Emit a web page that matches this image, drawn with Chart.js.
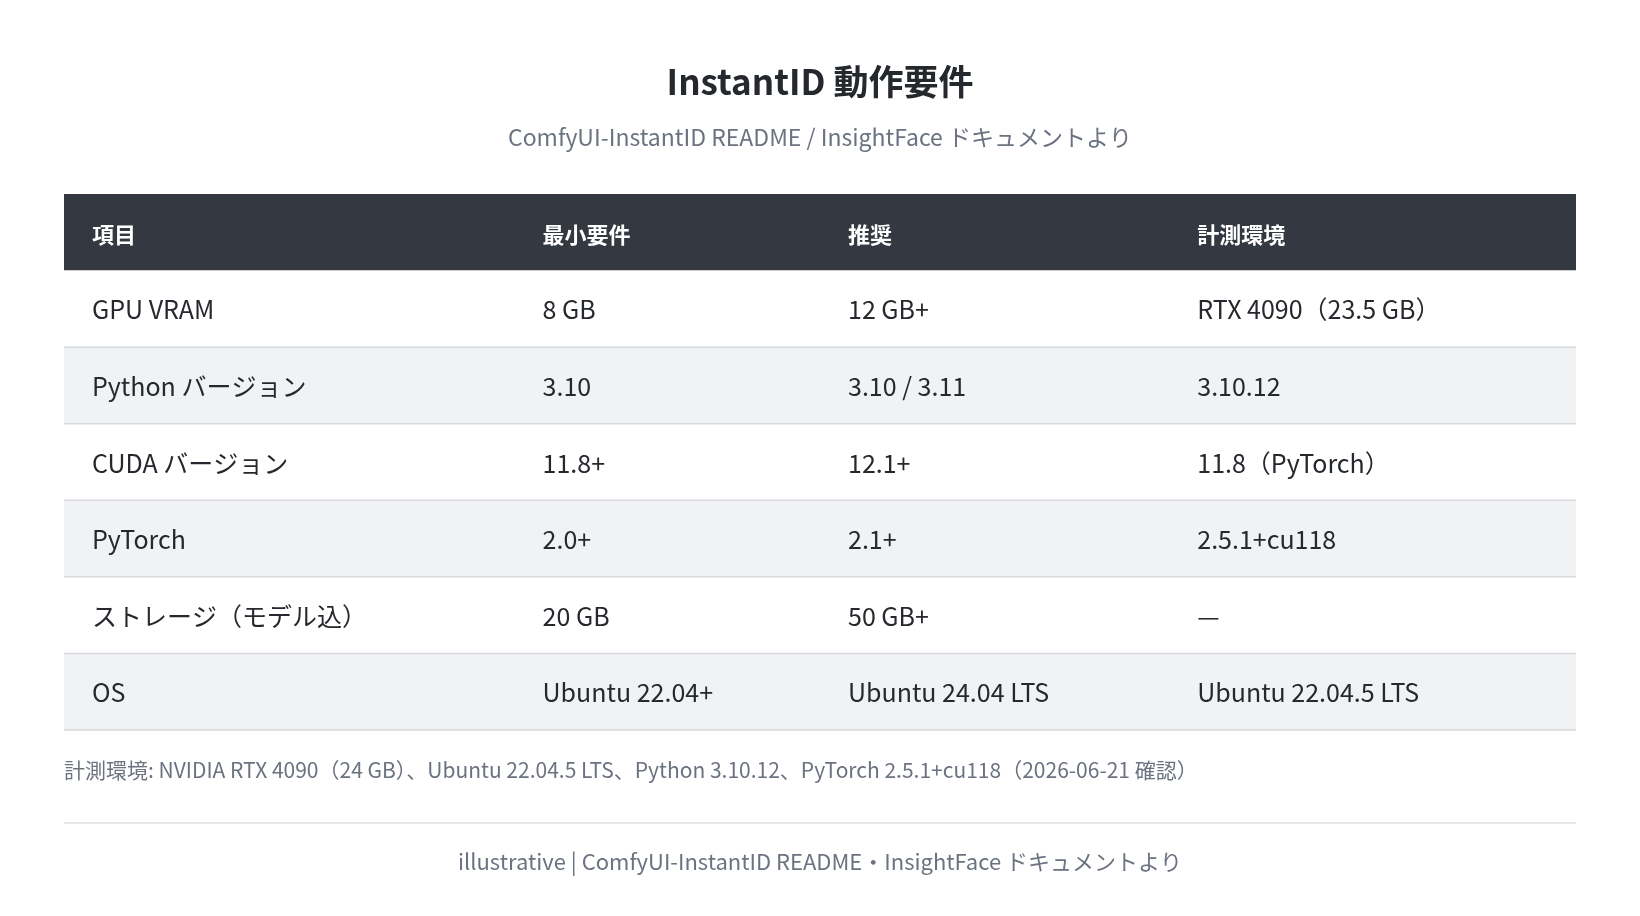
<!DOCTYPE html>
<html>
<head>
<meta charset="utf-8">
<script src="https://cdn.jsdelivr.net/npm/chart.js@4"></script>
<style>
  html, body { margin: 0; padding: 0; background: #ffffff; }
  canvas { display: block; }
</style>
</head>
<body>
<canvas id="tableChart" width="1640" height="916"></canvas>
<script>
// ---- Data ----
const headers = ['項目', '最小要件', '推奨', '計測環境'];
const items = ['GPU VRAM', 'Python バージョン', 'CUDA バージョン', 'PyTorch', 'ストレージ（モデル込）', 'OS'];
const minimum = ['8 GB', '3.10', '11.8+', '2.0+', '20 GB', 'Ubuntu 22.04+'];
const recommended = ['12 GB+', '3.10 / 3.11', '12.1+', '2.1+', '50 GB+', 'Ubuntu 24.04 LTS'];
const measured = ['RTX 4090（23.5 GB）', '3.10.12', '11.8（PyTorch）', '2.5.1+cu118', '—', 'Ubuntu 22.04.5 LTS'];
const columnStarts = [0, 29.8, 50, 73.1];   // percent of table width

const titleText = 'InstantID 動作要件';
const subtitleText = 'ComfyUI-InstantID README / InsightFace ドキュメントより';
const noteText = '計測環境: NVIDIA RTX 4090（24 GB）、Ubuntu 22.04.5 LTS、Python 3.10.12、PyTorch 2.5.1+cu118（2026-06-21 確認）';
const footerText = 'illustrative | ComfyUI-InstantID README・InsightFace ドキュメントより';

const FONT = '"Noto Sans CJK JP", "Noto Sans", sans-serif';
const rowLabels = ['header'].concat(items.map((_, i) => 'r' + i));
const rowColors = ['#343941'].concat(items.map((_, i) => i % 2 ? '#f1f2f4' : '#ffffff'));

// ---- Plugin: text and rules ----
const tablePlugin = {
    id: 'tableText',
    afterDatasetsDraw(chart) {
        const { ctx, chartArea: a, scales: { x, y } } = chart;
        const W = chart.width;
        ctx.save();
        ctx.textBaseline = 'middle';

        // Title / subtitle
        ctx.textAlign = 'center';
        ctx.fillStyle = '#25282c';
        ctx.font = 'bold 35px ' + FONT;
        ctx.fillText(titleText, W / 2, 82);
        ctx.fillStyle = '#6b7280';
        ctx.font = '23px ' + FONT;
        ctx.fillText(subtitleText, W / 2, 137);

        // Row separators
        const band = (y.getPixelForValue(1) - y.getPixelForValue(0));
        ctx.strokeStyle = '#d6d9dd';
        ctx.lineWidth = 1.5;
        for (let i = 1; i < rowLabels.length; i++) {
            const yb = y.getPixelForValue(i) + band / 2;
            ctx.beginPath();
            ctx.moveTo(a.left, yb);
            ctx.lineTo(a.right, yb);
            ctx.stroke();
        }

        // Cells
        ctx.textAlign = 'left';
        const pad = 28;
        const cols = [items, minimum, recommended, measured];
        headers.forEach((h, c) => {
            ctx.fillStyle = '#ffffff';
            ctx.font = 'bold 22px ' + FONT;
            ctx.fillText(h, x.getPixelForValue(columnStarts[c]) + pad, y.getPixelForValue(0) + 2);
        });
        ctx.fillStyle = '#25282c';
        ctx.font = '25px ' + FONT;
        items.forEach((_, r) => {
            cols.forEach((col, c) => {
                ctx.fillText(col[r], x.getPixelForValue(columnStarts[c]) + pad, y.getPixelForValue(r + 1) + 1);
            });
        });

        // Note, divider, footer
        ctx.fillStyle = '#6b7280';
        ctx.font = '21px ' + FONT;
        ctx.fillText(noteText, a.left, 770);
        ctx.strokeStyle = '#dcdfe3';
        ctx.beginPath();
        ctx.moveTo(a.left, 823);
        ctx.lineTo(a.right, 823);
        ctx.stroke();
        ctx.textAlign = 'center';
        ctx.font = '22px ' + FONT;
        ctx.fillText(footerText, W / 2, 862);
        ctx.restore();
    }
};

new Chart(document.getElementById('tableChart'), {
    type: 'bar',
    data: {
        labels: rowLabels,
        datasets: [{
            data: rowLabels.map(() => 100),
            backgroundColor: rowColors,
            barPercentage: 1,
            categoryPercentage: 1,
            borderWidth: 0
        }]
    },
    options: {
        indexAxis: 'y',
        responsive: false,
        animation: false,
        events: [],
        layout: { padding: { left: 64, right: 64, top: 194, bottom: 186 } },
        plugins: { legend: { display: false }, tooltip: { enabled: false } },
        scales: {
            x: { type: 'linear', min: 0, max: 100, display: false },
            y: { type: 'category', display: false, offset: true, grid: { display: false } }
        }
    },
    plugins: [tablePlugin]
});
</script>
</body>
</html>
